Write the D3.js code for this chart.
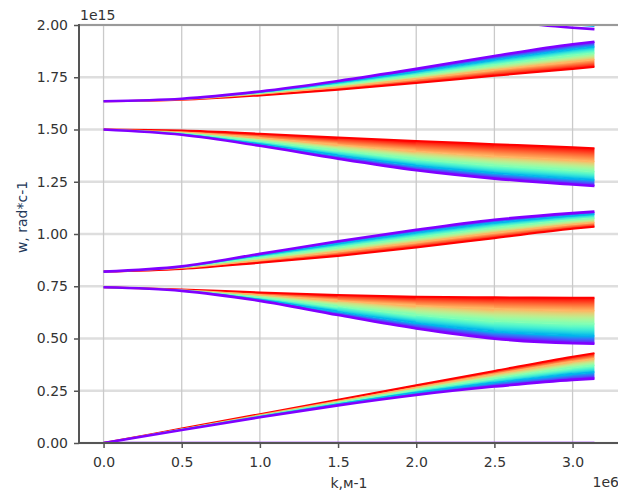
<!DOCTYPE html>
<html><head><meta charset="utf-8">
<script src="https://cdn.jsdelivr.net/npm/d3@7"></script>
<style>body{margin:0;background:#fff}svg{display:block}text{font-family:"DejaVu Sans",sans-serif}</style>
</head><body><svg id="c" width="618" height="492"></svg>
<script>
// k values (units of 1e6 m^-1)
const kValues = [0, 0.5, 1.0, 1.5, 2.0, 2.5, 3.0, 3.14];
const xTicks = [0, 0.5, 1.0, 1.5, 2.0, 2.5, 3.0];
const xTickLabels = ["0.0","0.5","1.0","1.5","2.0","2.5","3.0"];
const yTicks = [0, 0.25, 0.5, 0.75, 1.0, 1.25, 1.5, 1.75, 2.0];
const yTickLabels = ["0.00","0.25","0.50","0.75","1.00","1.25","1.50","1.75","2.00"];
// colour levels of the family of curves (rainbow colormap position)
const levels = [0, 0.25, 0.5, 0.75, 1];

// w values (units of 1e15 rad/s), per band, per colour level
const b0_violet = [0, 0, 0, 0, 0, 0, 0, 0];

const b1_violet = [0, 0.062, 0.123, 0.180, 0.230, 0.270, 0.302, 0.308];
const b1_blue   = [0, 0.064, 0.127, 0.187, 0.242, 0.289, 0.330, 0.339];
const b1_green  = [0, 0.066, 0.131, 0.194, 0.254, 0.309, 0.360, 0.371];
const b1_orange = [0, 0.067, 0.135, 0.201, 0.266, 0.329, 0.389, 0.403];
const b1_red    = [0, 0.069, 0.138, 0.207, 0.276, 0.345, 0.413, 0.430];

const b2_violet = [0.745, 0.728, 0.680, 0.612, 0.548, 0.499, 0.477, 0.475];
const b2_blue   = [0.745, 0.729, 0.687, 0.628, 0.574, 0.533, 0.514, 0.512];
const b2_green  = [0.745, 0.731, 0.697, 0.653, 0.613, 0.584, 0.571, 0.570];
const b2_orange = [0.745, 0.733, 0.709, 0.681, 0.657, 0.642, 0.634, 0.633];
const b2_red    = [0.745, 0.735, 0.720, 0.708, 0.700, 0.697, 0.695, 0.695];

const b3_violet = [0.82, 0.845, 0.905, 0.965, 1.020, 1.068, 1.100, 1.107];
const b3_blue   = [0.82, 0.843, 0.898, 0.953, 1.006, 1.053, 1.087, 1.095];
const b3_green  = [0.82, 0.840, 0.887, 0.935, 0.983, 1.030, 1.068, 1.076];
const b3_orange = [0.82, 0.836, 0.874, 0.915, 0.959, 1.005, 1.046, 1.055];
const b3_red    = [0.82, 0.833, 0.862, 0.895, 0.935, 0.980, 1.025, 1.035];

const b4_violet = [1.50, 1.475, 1.422, 1.360, 1.305, 1.265, 1.237, 1.230];
const b4_blue   = [1.50, 1.478, 1.431, 1.376, 1.327, 1.291, 1.265, 1.259];
const b4_green  = [1.50, 1.483, 1.444, 1.399, 1.358, 1.328, 1.305, 1.298];
const b4_orange = [1.50, 1.488, 1.460, 1.426, 1.396, 1.372, 1.353, 1.347];
const b4_red    = [1.50, 1.495, 1.480, 1.462, 1.445, 1.430, 1.415, 1.410];

const b5_violet = [1.635, 1.647, 1.682, 1.732, 1.790, 1.852, 1.908, 1.920];
const b5_blue   = [1.635, 1.646, 1.678, 1.724, 1.776, 1.833, 1.884, 1.896];
const b5_green  = [1.635, 1.645, 1.673, 1.713, 1.759, 1.809, 1.855, 1.866];
const b5_orange = [1.635, 1.643, 1.669, 1.702, 1.742, 1.785, 1.824, 1.835];
const b5_red    = [1.635, 1.642, 1.663, 1.690, 1.722, 1.757, 1.790, 1.800];

const kTop = [2.5, 2.8, 3.0, 3.14];
const b6_violet = [2.03, 2.00, 1.987, 1.980];
const b6_blue   = [2.06, 2.02, 2.003, 1.995];

const bands = [
  [b1_violet, b1_blue, b1_green, b1_orange, b1_red],
  [b2_violet, b2_blue, b2_green, b2_orange, b2_red],
  [b3_violet, b3_blue, b3_green, b3_orange, b3_red],
  [b4_violet, b4_blue, b4_green, b4_orange, b4_red],
  [b5_violet, b5_blue, b5_green, b5_orange, b5_red]
];

function rainbow(t) {
  const r = Math.min(1, Math.abs(2 * t - 0.5));
  const g = Math.sin(Math.PI * t);
  const b = Math.cos(Math.PI * t / 2);
  return d3.rgb(r * 255, g * 255, b * 255).formatHex();
}

const svg = d3.select("#c");
const L = 79, R = 619, T = 25, B = 443;
const x = d3.scaleLinear().domain([-0.157, 3.297]).range([L, R]);
const y = d3.scaleLinear().domain([0, 2]).range([B, T]);

const defs = svg.append("defs");
defs.append("clipPath").attr("id", "plotclip").append("rect")
  .attr("x", L).attr("y", T).attr("width", R - L).attr("height", B - T);

// grid
const grid = svg.append("g");
grid.selectAll("line.h").data(yTicks).join("line")
  .attr("x1", L).attr("x2", R).attr("y1", d => y(d)).attr("y2", d => y(d))
  .attr("stroke", "#dedede").attr("stroke-width", 2.5);
grid.selectAll("line.v").data(xTicks).join("line")
  .attr("y1", T).attr("y2", B).attr("x1", d => x(d)).attr("x2", d => x(d))
  .attr("stroke", "#cacaca").attr("stroke-width", 1.3);

const plot = svg.append("g").attr("clip-path", "url(#plotclip)");
const fills = plot.append("g");

const segs = d3.range(kValues.length - 1);
segs.forEach(i => {
  defs.append("clipPath").attr("id", "seg" + i).append("rect")
    .attr("x", x(kValues[i]) - 0.5).attr("y", 0)
    .attr("width", x(kValues[i + 1]) - x(kValues[i]) + 1).attr("height", 492);
});

let gid = 0;
bands.forEach(curves => {
  for (let c = 0; c < curves.length - 1; c++) {
    const A = curves[c], Bc = curves[c + 1], tA = levels[c], tB = levels[c + 1];
    const areaGen = d3.area().curve(d3.curveMonotoneX)
      .x((d, j) => x(kValues[j])).y0((d, j) => y(A[j])).y1((d, j) => y(Bc[j]));
    const dStr = areaGen(kValues);
    segs.forEach(i => {
      const xm = (x(kValues[i]) + x(kValues[i + 1])) / 2;
      const yA = (y(A[i]) + y(A[i + 1])) / 2, yB = (y(Bc[i]) + y(Bc[i + 1])) / 2;
      const dx = x(kValues[i + 1]) - x(kValues[i]);
      const dy = ((y(A[i + 1]) - y(A[i])) + (y(Bc[i + 1]) - y(Bc[i]))) / 2;
      const len = Math.hypot(dx, dy), nx = -dy / len, ny = dx / len;
      const proj = (yB - yA) * ny;
      const id = "g" + (gid++);
      const g = defs.append("linearGradient").attr("id", id).attr("gradientUnits", "userSpaceOnUse")
        .attr("x1", xm).attr("y1", yA).attr("x2", xm + proj * nx).attr("y2", yA + proj * ny + (Math.abs(proj) < 0.01 ? 0.01 : 0));
      [0, 0.25, 0.5, 0.75, 1].forEach(s => g.append("stop").attr("offset", s).attr("stop-color", rainbow(tA + (tB - tA) * s)));
      fills.append("path").attr("d", dStr).attr("fill", `url(#${id})`).attr("clip-path", `url(#seg${i})`);
    });
  }
});

// lines, red first, violet last (on top)
const lineGen = d3.line().curve(d3.curveMonotoneX).x((d, j) => x(kValues[j])).y(d => y(d));
const lineTop = d3.line().curve(d3.curveMonotoneX).x((d, j) => x(kTop[j])).y(d => y(d));
const lines = plot.append("g").attr("fill", "none");
for (let c = levels.length - 1; c >= 0; c--) {
  bands.forEach(curves => {
    lines.append("path").attr("d", lineGen(curves[c]))
      .attr("stroke", rainbow(levels[c]))
      .attr("stroke-width", c === 0 ? 2.6 : (c === levels.length - 1 ? 2 : 1.2));
  });
}
lines.append("path").attr("d", lineTop(b6_blue)).attr("stroke", rainbow(0.25)).attr("stroke-width", 2);
lines.append("path").attr("d", lineTop(b6_violet)).attr("stroke", rainbow(0)).attr("stroke-width", 2.6);
lines.append("path").attr("d", lineGen(b0_violet)).attr("stroke", rainbow(0)).attr("stroke-width", 2.6);

// axes
const ax = d3.axisBottom(x).tickValues(xTicks).tickFormat((d, i) => xTickLabels[i]).tickSize(5).tickPadding(9);
const gx = svg.append("g").attr("transform", `translate(0,${B})`).call(ax);
const ay = d3.axisLeft(y).tickValues(yTicks).tickFormat((d, i) => yTickLabels[i]).tickSize(5).tickPadding(6);
const gy = svg.append("g").attr("transform", `translate(${L},0)`).call(ay);
[gx, gy].forEach(g => {
  g.select(".domain").remove();
  g.selectAll(".tick line").attr("stroke", "#555").attr("stroke-width", 1.5);
  g.selectAll(".tick text").attr("fill", "#333").style("font-size", "14px").style("font-family", "DejaVu Sans");
});

// spines
svg.append("line").attr("x1", L).attr("x2", R).attr("y1", T).attr("y2", T).attr("stroke", "#9a9a9a").attr("stroke-width", 2);
svg.append("line").attr("x1", L).attr("x2", L).attr("y1", T - 1).attr("y2", B + 1).attr("stroke", "#555").attr("stroke-width", 2);
svg.append("line").attr("x1", L).attr("x2", R).attr("y1", B).attr("y2", B).attr("stroke", "#555").attr("stroke-width", 2);

// labels
svg.append("text").attr("x", 80).attr("y", 20).attr("fill", "#333").style("font-size", "14px").text("1e15");
svg.append("text").attr("x", 619).attr("y", 487).attr("text-anchor", "end").attr("fill", "#333").style("font-size", "14px").text("1e6");
svg.append("text").attr("x", 349).attr("y", 488).attr("text-anchor", "middle").attr("fill", "#333").style("font-size", "14px").text("k,м-1");
svg.append("text").attr("transform", "translate(27,217) rotate(-90)").attr("text-anchor", "middle").attr("fill", "#24385a").style("font-size", "14px").text("w, rad*c-1");
</script></body></html>
